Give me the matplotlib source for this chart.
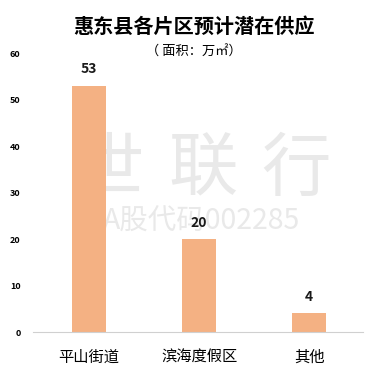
import matplotlib.pyplot as plt

plt.rcParams['font.family'] = ['Noto Sans CJK SC', 'DejaVu Sans']

# 数据
areas = ['平山街道', '滨海度假区', '其他']
supply = [53, 20, 4]
yticks = [0, 10, 20, 30, 40, 50, 60]

fig = plt.figure(figsize=(3.87, 3.76), dpi=100)
ax = fig.add_axes([0.085, 0.117, 0.853, 0.742])

# 水印（字距较宽，逐字放置，压在柱子下面）
for ch, xf in zip('世联行', [0.282, 0.525, 0.765]):
    ax.text(xf, 0.548, ch, ha='center', va='center', fontsize=50,
            color='#e9e9e9', zorder=0, transform=fig.transFigure)
ax.text(0.52, 0.41, 'A股代码002285', ha='center', va='center', fontsize=20.5,
        color='#e9e9e9', zorder=0, transform=fig.transFigure)

x = range(len(areas))
bars = ax.bar(x, supply, width=0.31, color='#F4B183', zorder=2)
for xi, v in zip(x, supply):
    ax.text(xi, v + 2.0, str(v), ha='center', va='bottom',
            fontsize=10, fontweight='bold', color='#1a1a1a', zorder=3)

ax.set_xlim(-0.51, 2.49)
ax.set_ylim(0, 60)
ax.set_yticks(yticks)
ax.set_yticklabels([str(t) for t in yticks], fontsize=6.5, fontweight='bold')
ax.set_xticks(list(x))
ax.set_xticklabels(areas, fontsize=11)
ax.tick_params(axis='both', length=0)
ax.tick_params(axis='y', pad=9)
ax.tick_params(axis='x', pad=12)
for s in ['top', 'right', 'left']:
    ax.spines[s].set_visible(False)
ax.spines['bottom'].set_color('#d0d0d0')

# 标题
fig.text(0.5, 0.93, '惠东县各片区预计潜在供应', ha='center', va='center',
         fontsize=14.5, fontweight='bold')
fig.text(0.5, 0.86, '（ 面积：万㎡）', ha='center', va='center', fontsize=9.5)

fig.savefig('out.png', dpi=100)
